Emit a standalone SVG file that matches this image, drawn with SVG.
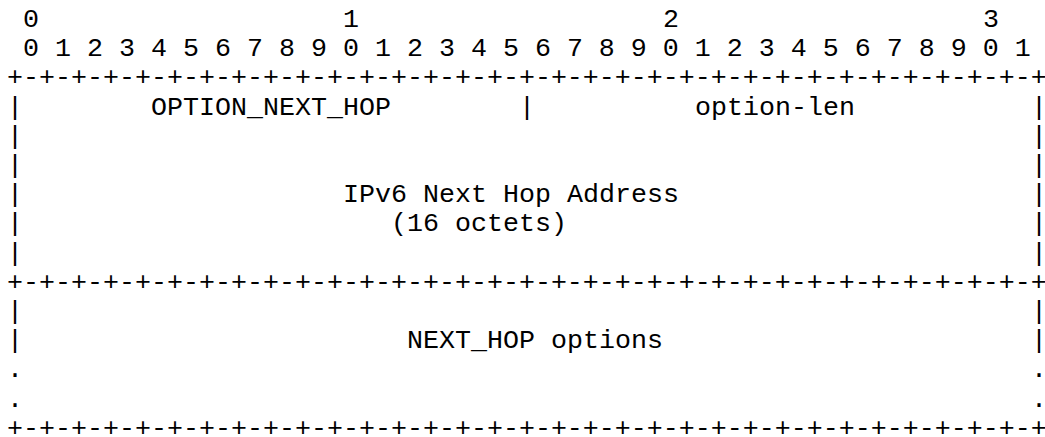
<svg xmlns="http://www.w3.org/2000/svg" width="1045" height="437" viewBox="0 0 1045 437">
<style>
text{font-family:"Liberation Mono","Courier New",monospace;font-size:26.66px;fill:#000;white-space:pre}
</style>
<rect width="1045" height="437" fill="#fff"/>
<g id="ruler">
<text x="23" y="27">0</text><text x="343" y="27">1</text><text x="663" y="27">2</text><text x="983" y="27">3</text>
<text x="23" y="56.2" xml:space="preserve">0 1 2 3 4 5 6 7 8 9 0 1 2 3 4 5 6 7 8 9 0 1 2 3 4 5 6 7 8 9 0 1</text>
</g>
<g id="borders">
<text x="7" y="85.4">+-+-+-+-+-+-+-+-+-+-+-+-+-+-+-+-+-+-+-+-+-+-+-+-+-+-+-+-+-+-+-+-+</text>
<text x="7" y="289.8">+-+-+-+-+-+-+-+-+-+-+-+-+-+-+-+-+-+-+-+-+-+-+-+-+-+-+-+-+-+-+-+-+</text>
<text x="7" y="435.8">+-+-+-+-+-+-+-+-+-+-+-+-+-+-+-+-+-+-+-+-+-+-+-+-+-+-+-+-+-+-+-+-+</text>
</g>
<g id="field-option-code">
<text x="7" y="114.6">|</text>
<text x="151" y="114.6">OPTION_NEXT_HOP</text>
<text x="519" y="114.6">|</text>
</g>
<g id="field-option-len">
<text x="695" y="114.6">option-len</text>
<text x="1031" y="114.6">|</text>
</g>
<g id="field-address">
<text x="7" y="143.8">|</text><text x="1031" y="143.8">|</text>
<text x="7" y="173">|</text><text x="1031" y="173">|</text>
<text x="7" y="202.2">|</text><text x="343" y="202.2">IPv6 Next Hop Address</text><text x="1031" y="202.2">|</text>
<text x="7" y="231.4">|</text><text x="391" y="231.4">(16 octets)</text><text x="1031" y="231.4">|</text>
<text x="7" y="260.6">|</text><text x="1031" y="260.6">|</text>
</g>
<g id="field-options">
<text x="7" y="319">|</text><text x="1031" y="319">|</text>
<text x="7" y="348.2">|</text><text x="407" y="348.2">NEXT_HOP options</text><text x="1031" y="348.2">|</text>
<text x="7" y="377.4">.</text><text x="1031" y="377.4">.</text>
<text x="7" y="406.6">.</text><text x="1031" y="406.6">.</text>
</g>
<g id="connectors"/>
</svg>
